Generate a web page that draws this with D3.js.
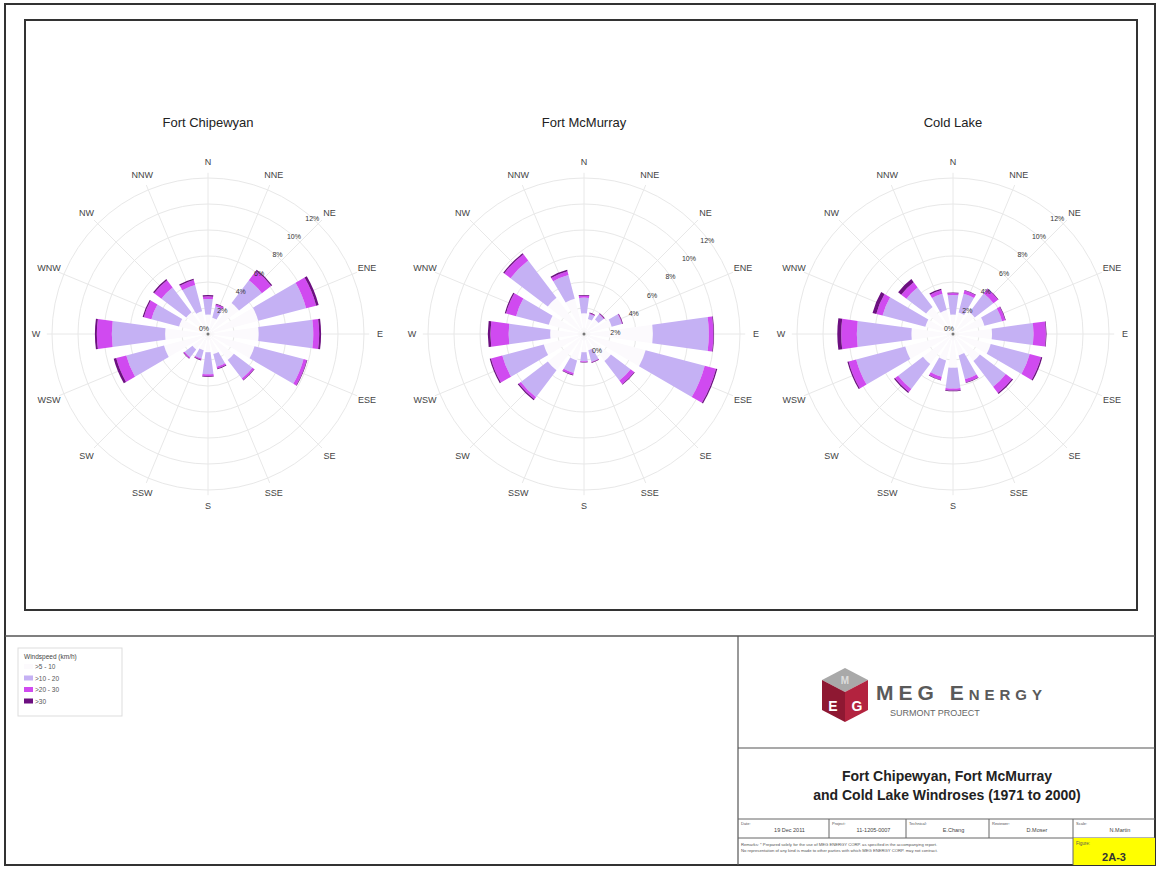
<!DOCTYPE html>
<html>
<head>
<meta charset="utf-8">
<script src="https://cdn.jsdelivr.net/npm/d3@7"></script>
<style>
  body { margin: 0; background: #fff; }
  svg { font-family: "Liberation Sans", Arial, sans-serif; display: block; }
</style>
</head>
<body>
<svg id="sheet" width="1158" height="869"></svg>
<script>
// direction names, clockwise from north
var directions = ["N", "NNE", "NE", "ENE", "E", "ESE", "SE", "SSE",
                  "S", "SSW", "SW", "WSW", "W", "WNW", "NW", "NNW"];
var speedClasses = [">5 - 10", ">10 - 20", ">20 - 30", ">30"];
var ringTicks = [2, 4, 6, 8, 10, 12];
var ringLabels = ["0%", "2%", "4%", "6%", "8%", "10%", "12%"];

// frequency (%) per direction for each speed class
var chipewyan5 = [1.5, 1.3, 3.0, 4.0, 3.9, 3.7, 2.5, 1.6, 1.4, 1.3, 1.5, 3.5, 3.3, 2.3, 2.1, 1.8];
var chipewyan10 = [1.2, 0.9, 2.2, 3.8, 4.2, 3.9, 1.8, 1.0, 1.7, 0.65, 0.75, 3.0, 4.1, 2.2, 2.4, 2.1];
var chipewyan20 = [0.2, 0.15, 0.9, 0.8, 0.45, 0.25, 0.15, 0.15, 0.15, 0.1, 0.1, 0.8, 1.15, 0.6, 0.7, 0.4];
var chipewyan30 = [0.1, 0.05, 0.1, 0.2, 0.15, 0.05, 0.05, 0.05, 0.05, 0.05, 0.05, 0.2, 0.15, 0.1, 0.1, 0.1];

var mcmurray5 = [1.6, 1.2, 1.4, 2.2, 5.3, 4.9, 2.6, 1.3, 1.4, 2.1, 3.5, 3.2, 2.6, 2.8, 3.5, 2.8];
var mcmurray10 = [1.2, 0.4, 0.5, 0.8, 4.3, 4.7, 1.9, 0.9, 0.7, 1.0, 2.6, 3.3, 3.2, 2.6, 3.6, 1.9];
var mcmurray20 = [0.15, 0.05, 0.05, 0.05, 0.35, 0.9, 0.35, 0.05, 0.05, 0.15, 0.2, 0.9, 1.4, 0.8, 0.6, 0.3];
var mcmurray30 = [0.05, 0.05, 0.05, 0.05, 0.05, 0.1, 0.05, 0.05, 0.05, 0.05, 0.1, 0.1, 0.2, 0.1, 0.1, 0.1];

var coldlake5 = [1.5, 1.7, 2.1, 2.5, 3.0, 3.0, 2.6, 1.7, 2.6, 2.1, 2.9, 3.8, 3.2, 2.2, 2.6, 1.9];
var coldlake10 = [1.5, 1.5, 1.8, 1.4, 3.2, 3.1, 2.5, 1.9, 1.6, 1.3, 2.4, 3.9, 4.2, 3.4, 1.9, 1.3];
var coldlake20 = [0.15, 0.25, 0.45, 0.25, 0.95, 0.9, 0.6, 0.25, 0.15, 0.25, 0.3, 0.6, 1.2, 0.5, 0.5, 0.3];
var coldlake30 = [0.05, 0.05, 0.05, 0.05, 0.05, 0.1, 0.1, 0.05, 0.05, 0.05, 0.1, 0.1, 0.3, 0.3, 0.3, 0.1];

var stations = ["Fort Chipewyan", "Fort McMurray", "Cold Lake"];
var stationData = [
    [chipewyan5, chipewyan10, chipewyan20, chipewyan30],
    [mcmurray5, mcmurray10, mcmurray20, mcmurray30],
    [coldlake5, coldlake10, coldlake20, coldlake30]
];

var classColors = ["#fcfafd", "#c5b1f4", "#d04af0", "#6c0f80"];
var centersX = [208, 584, 953];
var centerY = 334;

var svg = d3.select("#sheet");

// drawing sheet frame
svg.append("rect").attr("x", 5).attr("y", 4).attr("width", 1150).attr("height", 861)
    .attr("fill", "none").attr("stroke", "#333").attr("stroke-width", 2);
svg.append("rect").attr("x", 25).attr("y", 20).attr("width", 1112).attr("height", 590)
    .attr("fill", "none").attr("stroke", "#333").attr("stroke-width", 2);
svg.append("line").attr("x1", 5).attr("x2", 1155).attr("y1", 636).attr("y2", 636)
    .attr("stroke", "#555").attr("stroke-width", 1.5);
svg.append("line").attr("x1", 738).attr("x2", 738).attr("y1", 636).attr("y2", 865)
    .attr("stroke", "#555").attr("stroke-width", 1.2);
svg.append("line").attr("x1", 738).attr("x2", 1155).attr("y1", 748).attr("y2", 748)
    .attr("stroke", "#555").attr("stroke-width", 1.2);

var r = d3.scaleLinear().domain([0, 12]).range([0, 156]);
var angle = d3.scaleBand().domain(directions).range([0, 2 * Math.PI]);
var halfWidth = 7.8 * Math.PI / 180;
var arc = d3.arc();

stations.forEach(function(name, s) {
    var g = svg.append("g")
        .attr("transform", "translate(" + centersX[s] + "," + centerY + ")");

    g.append("text")
        .attr("x", 0).attr("y", 127 - centerY)
        .attr("text-anchor", "middle")
        .attr("font-size", 13).attr("fill", "#222")
        .text(name);

    // grid rings and spokes
    g.selectAll("circle.ring")
        .data(ringTicks)
        .enter()
        .append("circle")
        .attr("class", "ring")
        .attr("r", function(d) { return r(d); })
        .attr("fill", "none")
        .attr("stroke", "#e8e8e8")
        .attr("stroke-width", 1);

    g.selectAll("line.spoke")
        .data(directions)
        .enter()
        .append("line")
        .attr("class", "spoke")
        .attr("x1", 0).attr("y1", 0)
        .attr("x2", function(d) { return r(12.4) * Math.sin(angle(d)); })
        .attr("y2", function(d) { return -r(12.4) * Math.cos(angle(d)); })
        .attr("stroke", "#e8e8e8")
        .attr("stroke-width", 1);

    // stacked wedges, one layer per speed class
    var layers = stationData[s];
    var cum = directions.map(function() { return 0; });
    layers.forEach(function(values, k) {
        var rows = directions.map(function(dir, i) {
            var row = { dir: dir, inner: cum[i], outer: cum[i] + values[i] };
            cum[i] = row.outer;
            return row;
        });
        g.selectAll("path.c" + k)
            .data(rows)
            .enter()
            .append("path")
            .attr("class", "c" + k)
            .attr("d", function(d) {
                return arc({
                    innerRadius: r(d.inner),
                    outerRadius: r(d.outer),
                    startAngle: angle(d.dir) - halfWidth,
                    endAngle: angle(d.dir) + halfWidth
                });
            })
            .attr("fill", classColors[k]);
    });

    g.append("circle").attr("r", 1.5).attr("fill", "#777");

    // direction labels
    g.selectAll("text.dir")
        .data(directions)
        .enter()
        .append("text")
        .attr("class", "dir")
        .attr("x", function(d) { return 172 * Math.sin(angle(d)); })
        .attr("y", function(d) { return -172 * Math.cos(angle(d)); })
        .attr("dy", "0.35em")
        .attr("text-anchor", "middle")
        .attr("font-size", 9)
        .attr("fill", "#444")
        .text(function(d) { return d; });

    // percentage labels along the NE line
    var flip = s === 1;
    g.selectAll("text.pct")
        .data(ringLabels)
        .enter()
        .append("text")
        .attr("class", "pct")
        .attr("x", function(d, i) { return r(i * 2) * Math.SQRT1_2 + (flip ? 13 : 1); })
        .attr("y", function(d, i) { return -r(i * 2) * Math.SQRT1_2 + (flip ? 19 : -3); })
        .attr("text-anchor", flip ? "middle" : "end")
        .attr("font-size", 7)
        .attr("fill", "#333")
        .text(function(d) { return d; });
});

// legend
var legend = svg.append("g").attr("transform", "translate(18,648)");
legend.append("rect").attr("width", 104).attr("height", 68)
    .attr("fill", "#fff").attr("stroke", "#ddd");
legend.append("text").attr("x", 6).attr("y", 11).attr("font-size", 6.5).attr("fill", "#444")
    .text("Windspeed (km/h)");
legend.selectAll("g.item")
    .data(speedClasses)
    .enter()
    .append("g")
    .attr("class", "item")
    .attr("transform", function(d, i) { return "translate(6," + (16 + i * 11.5) + ")"; })
    .each(function(d, i) {
        var item = d3.select(this);
        item.append("rect").attr("width", 9).attr("height", 5).attr("fill", classColors[i]);
        item.append("text").attr("x", 11).attr("y", 5).attr("font-size", 6.5).attr("fill", "#555").text(d);
    });

// logo
var logo = svg.append("g");
logo.append("polygon").attr("points", "845,668 868,680 845,692 822,680").attr("fill", "#a9a9a9");
logo.append("polygon").attr("points", "822,680 845,692 845,722 822,710").attr("fill", "#8e1832");
logo.append("polygon").attr("points", "845,692 868,680 868,710 845,722").attr("fill", "#b3233f");
logo.append("text").attr("x", 845).attr("y", 684).attr("text-anchor", "middle")
    .attr("font-size", 10).attr("font-weight", "bold").attr("fill", "#ddd").text("M");
logo.append("text").attr("x", 833).attr("y", 711).attr("text-anchor", "middle")
    .attr("font-size", 14).attr("font-weight", "bold").attr("fill", "#fff").text("E");
logo.append("text").attr("x", 857).attr("y", 711).attr("text-anchor", "middle")
    .attr("font-size", 14).attr("font-weight", "bold").attr("fill", "#fff").text("G");
logo.append("text").attr("x", 876).attr("y", 700)
    .attr("font-size", 21).attr("letter-spacing", 5).attr("font-weight", "bold")
    .attr("fill", "#5a5a5a").style("font-variant", "small-caps").text("MEG Energy");
logo.append("text").attr("x", 890).attr("y", 716)
    .attr("font-size", 9).attr("fill", "#666").text("SURMONT PROJECT");

// title block
svg.append("text").attr("x", 947).attr("y", 781).attr("text-anchor", "middle")
    .attr("font-size", 14).attr("font-weight", "bold").attr("fill", "#222")
    .text("Fort Chipewyan, Fort McMurray");
svg.append("text").attr("x", 947).attr("y", 800).attr("text-anchor", "middle")
    .attr("font-size", 14).attr("font-weight", "bold").attr("fill", "#222")
    .text("and Cold Lake Windroses (1971 to 2000)");

var cellEdges = [738, 829, 906, 989, 1073, 1155];
var cellLabels = ["Date:", "Project:", "Technical:", "Reviewer:", "Scale:"];
var cellValues = ["19 Dec 2011", "11-1205-0007", "E.Chang", "D.Moser", "N.Martin"];

svg.append("line").attr("x1", 738).attr("x2", 1155).attr("y1", 819).attr("y2", 819)
    .attr("stroke", "#666").attr("stroke-width", 1);
svg.append("line").attr("x1", 738).attr("x2", 1155).attr("y1", 838).attr("y2", 838)
    .attr("stroke", "#666").attr("stroke-width", 1);
svg.append("rect").attr("x", 1073).attr("y", 838).attr("width", 82).attr("height", 27)
    .attr("fill", "#ffff00");
svg.selectAll("line.cell")
    .data(cellEdges.slice(1, 5))
    .enter()
    .append("line")
    .attr("class", "cell")
    .attr("x1", function(d) { return d; }).attr("x2", function(d) { return d; })
    .attr("y1", 819).attr("y2", function(d, i) { return i === 3 ? 865 : 838; })
    .attr("stroke", "#666").attr("stroke-width", 1);
svg.selectAll("text.cellLabel")
    .data(cellLabels)
    .enter()
    .append("text")
    .attr("x", function(d, i) { return cellEdges[i] + 3; })
    .attr("y", 825)
    .attr("font-size", 4).attr("fill", "#555")
    .text(function(d) { return d; });
svg.selectAll("text.cellValue")
    .data(cellValues)
    .enter()
    .append("text")
    .attr("x", function(d, i) { return (cellEdges[i] + cellEdges[i + 1]) / 2 + 6; })
    .attr("y", 832)
    .attr("text-anchor", "middle")
    .attr("font-size", 5.5).attr("fill", "#444")
    .text(function(d) { return d; });

svg.append("text").attr("x", 741).attr("y", 846).attr("font-size", 4.2).attr("fill", "#555")
    .text("Remarks: * Prepared solely for the use of MEG ENERGY CORP. as specified in the accompanying report.");
svg.append("text").attr("x", 741).attr("y", 852).attr("font-size", 4.2).attr("fill", "#555")
    .text("No representation of any kind is made to other parties with which MEG ENERGY CORP. may not contract.");
svg.append("text").attr("x", 1076).attr("y", 845).attr("font-size", 4.5).attr("fill", "#555")
    .text("Figure:");
svg.append("text").attr("x", 1114).attr("y", 861).attr("text-anchor", "middle")
    .attr("font-size", 11).attr("font-weight", "bold").attr("fill", "#333")
    .text("2A-3");
</script>
</body>
</html>
